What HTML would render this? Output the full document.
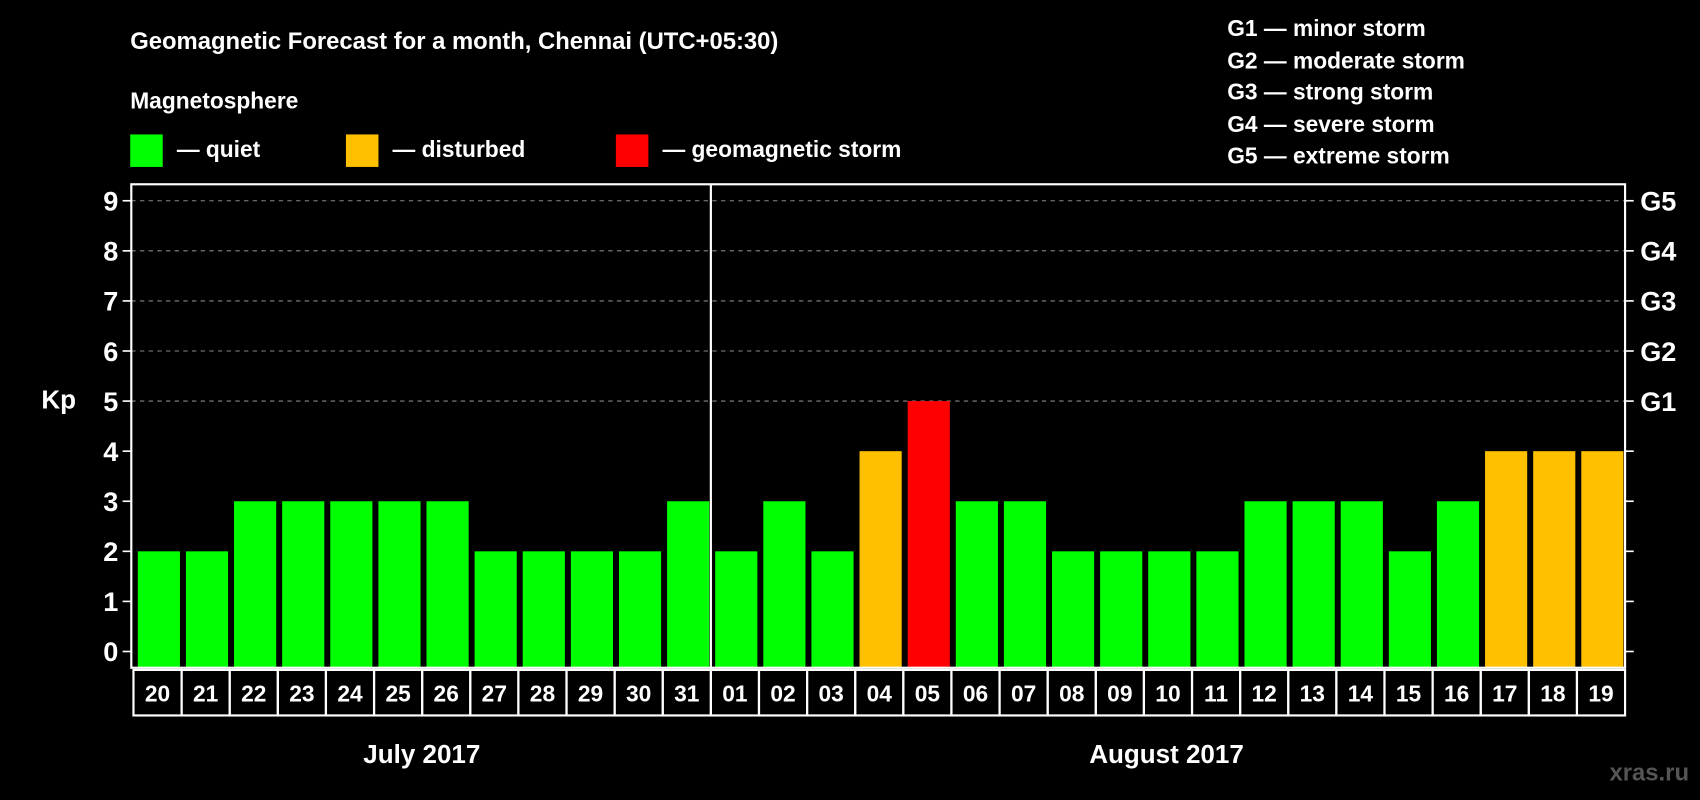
<!DOCTYPE html>
<html><head><meta charset="utf-8"><style>
html,body{margin:0;padding:0;background:#000;width:1700px;height:800px;overflow:hidden}
svg{display:block}
text{font-family:"Liberation Sans",Arial,sans-serif;font-weight:bold;fill:#fff}
</style></head><body>
<svg id="chart" width="1700" height="800" viewBox="0 0 1568 738" xmlns="http://www.w3.org/2000/svg">
<rect width="1568" height="738" fill="#000"/>
<text x="120" y="45" font-size="22">Geomagnetic Forecast for a month, Chennai (UTC+05:30)</text>
<text x="120" y="100" font-size="21">Magnetosphere</text>
<g>
<rect x="120" y="124" width="30" height="30" fill="#00ff00"/>
<text x="163" y="145" font-size="21">— quiet</text>
<rect x="319" y="124" width="30" height="30" fill="#ffc000"/>
<text x="362" y="145" font-size="21">— disturbed</text>
<rect x="568" y="124" width="30" height="30" fill="#ff0000"/>
<text x="611" y="145" font-size="21">— geomagnetic storm</text>
</g>
<g font-size="21">
<text x="1132" y="33">G1 — minor storm</text>
<text x="1132" y="63">G2 — moderate storm</text>
<text x="1132" y="92">G3 — strong storm</text>
<text x="1132" y="122">G4 — severe storm</text>
<text x="1132" y="151">G5 — extreme storm</text>
</g>
<text x="38" y="377" font-size="24">Kp</text>
<g id="plot"></g>
<text x="389" y="704" font-size="24" text-anchor="middle">July 2017</text>
<text x="1076" y="704" font-size="24" text-anchor="middle">August 2017</text>
<text x="1558" y="720" font-size="22" text-anchor="end" style="fill:#555">xras.ru</text>
</svg>
<script>
const days = ["20","21","22","23","24","25","26","27","28","29","30","31","01","02","03","04","05","06","07","08","09","10","11","12","13","14","15","16","17","18","19"];
const kpValues = [2,2,3,3,3,3,3,2,2,2,2,3,2,3,2,4,5,3,3,2,2,2,2,3,3,3,2,3,4,4,4];
const yTicks = [0,1,2,3,4,5,6,7,8,9];
const gLabels = ["G1","G2","G3","G4","G5"];
const gLevels = [5,6,7,8,9];

const NS="http://www.w3.org/2000/svg";
const g=document.getElementById('plot');
const L=121,R=1499,T=170,B=616;
const y=v=>601-v*46.2;
const step=(R-L-2)/days.length;
const x=i=>L+2+i*step;
function mk(t,a){const e=document.createElementNS(NS,t);for(const k in a)e.setAttribute(k,a[k]);g.appendChild(e);return e;}
function color(v){return v>=5?"#ff0000":(v>=4?"#ffc000":"#00ff00");}
yTicks.forEach(v=>{
  if(v>=5){const l=mk('line',{x1:L,x2:R,y1:y(v),y2:y(v),stroke:'#888','stroke-width':1,'stroke-dasharray':'4,4'});
  
  }
  const t=mk('line',{x1:L-8,x2:L,y1:y(v),y2:y(v),stroke:'#fff','stroke-width':1.5});
  
  
  const t2=mk('line',{x1:R,x2:R+8,y1:y(v),y2:y(v),stroke:'#fff','stroke-width':1.5});
  
  
  const lb=mk('text',{x:L-12,y:y(v)+9,'font-size':25,'text-anchor':'end'});
  lb.textContent=v;
  
  
});
gLabels.forEach((s,i)=>{
  const lb=mk('text',{x:R+14,y:y(gLevels[i])+9,'font-size':25});
  lb.textContent=s;
  
  
});
kpValues.forEach((v,i)=>{
  const b=mk('rect',{x:x(i)+4,y:y(v),width:step-5.5,height:y(0)-y(v)+15,fill:color(v)});
  
  
  const c=mk('rect',{x:x(i),y:618,width:step,height:42,fill:'none',stroke:'#fff','stroke-width':2});
  
  
  const t=mk('text',{x:x(i)+step/2,y:647,'font-size':21,'text-anchor':'middle'});
  t.textContent=days[i];
  
  
});
const fr=mk('rect',{x:L,y:T,width:R-L,height:B-T,fill:'none',stroke:'#fff','stroke-width':2});


const split=days.indexOf("01");
const d=mk('line',{x1:x(split),x2:x(split),y1:T,y2:B,stroke:'#fff','stroke-width':2});


</script>
</body></html>
